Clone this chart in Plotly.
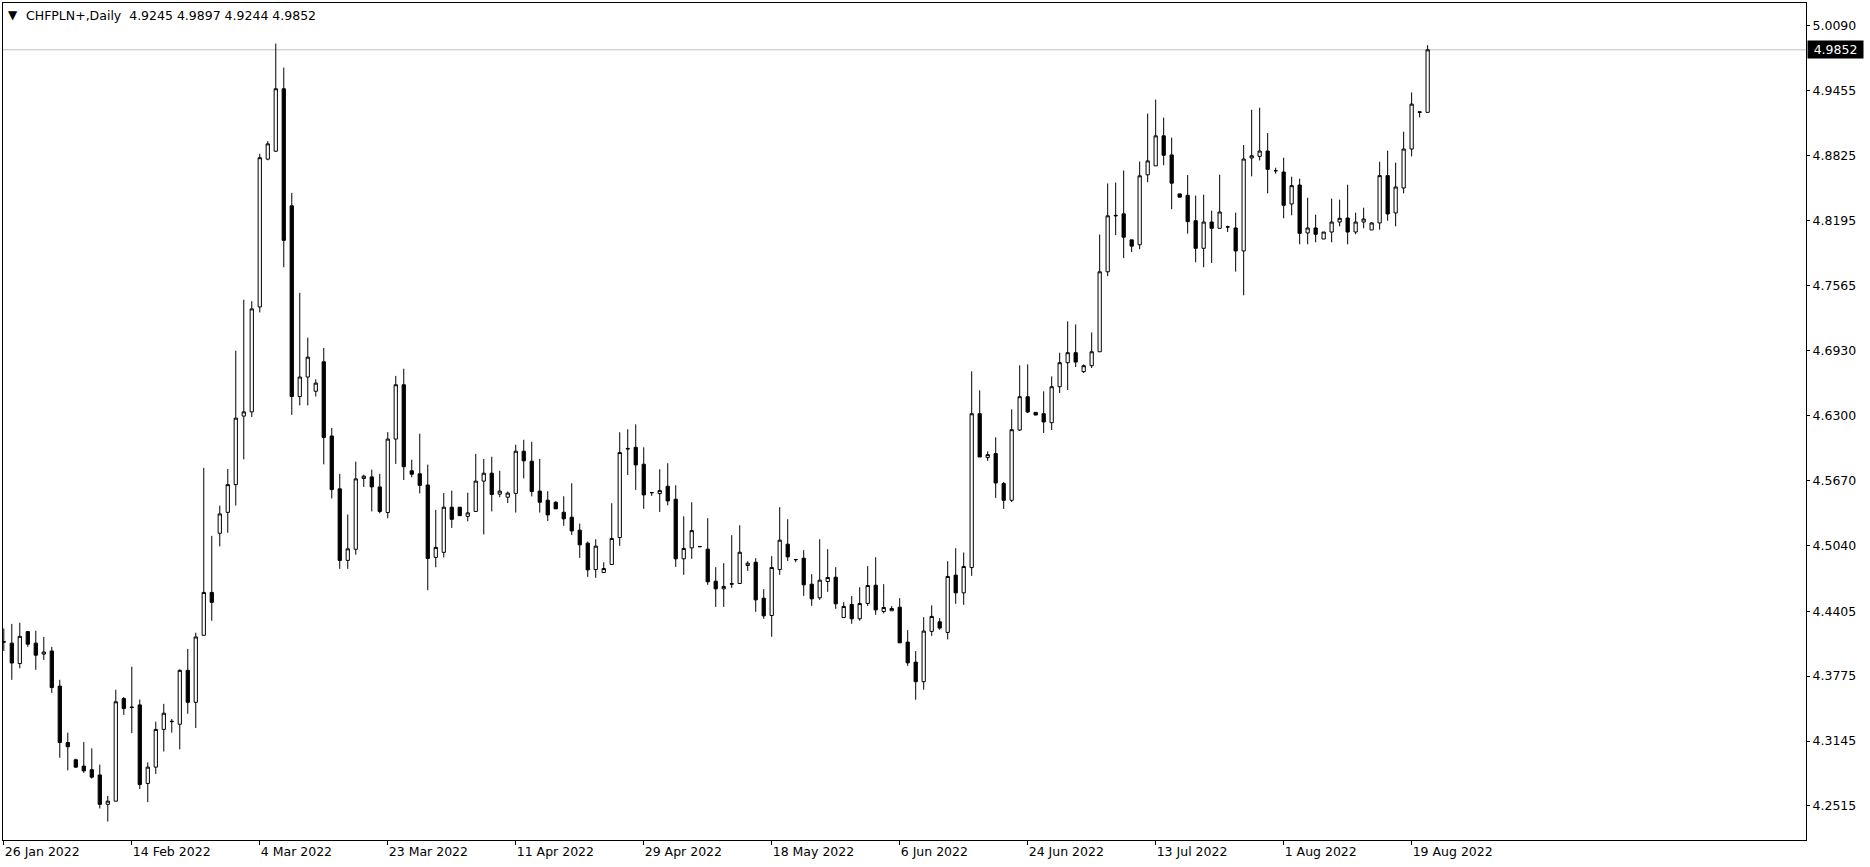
import datetime as dt
import plotly.graph_objects as go

# ---- data (daily CHFPLN bars, Sun-Fri sessions) ----
start_date = dt.date(2022, 1, 26)
n_bars = 179

open_ = [
    4.4110, 4.4095, 4.3897, 4.4207, 4.4095, 4.3989, 4.4019, 4.3678, 4.3131, 4.2963,
    4.2902, 4.2867, 4.2816, 4.2531, 4.2562, 4.3557, 4.3475, 4.3496, 4.2734, 4.2892,
    4.3258, 4.3333, 4.3308, 4.3831, 4.3521, 4.4171, 4.4587, 4.5161, 4.5364, 4.5633,
    4.6298, 4.6339, 4.7357, 4.8791, 4.8868, 4.9474, 4.8338, 4.6488, 4.6677, 4.6539,
    4.6825, 4.6105, 4.5592, 4.4898, 4.5006, 4.5693, 4.5708, 4.5611, 4.5362, 4.6075,
    4.6602, 4.5767, 4.5738, 4.5629, 4.4927, 4.4976, 4.5414, 4.5414, 4.5325, 4.5373,
    4.5667, 4.5744, 4.5541, 4.5511, 4.5548, 4.5957, 4.5860, 4.5570, 4.5482, 4.5462,
    4.5365, 4.5317, 4.5191, 4.5065, 4.4809, 4.4780, 4.4858, 4.5120, 4.5984, 4.5995,
    4.5831, 4.5557, 4.5546, 4.5617, 4.5491, 4.4913, 4.5019, 4.5033, 4.5007, 4.4696,
    4.4622, 4.4672, 4.4674, 4.4848, 4.4880, 4.4531, 4.4363, 4.4809, 4.5055, 4.4907,
    4.4919, 4.4667, 4.4535, 4.4693, 4.4735, 4.4344, 4.4470, 4.4331, 4.4480, 4.4657,
    4.4402, 4.4409, 4.4444, 4.4105, 4.3911, 4.3721, 4.4209, 4.4302, 4.4199, 4.4755,
    4.4583, 4.4828, 4.6321, 4.5895, 4.5934, 4.5643, 4.5481, 4.6163, 4.6486, 4.6334,
    4.6321, 4.6234, 4.6583, 4.6816, 4.6913, 4.6729, 4.6787, 4.6922, 4.7698, 4.8246,
    4.8260, 4.8008, 4.7960, 4.8639, 4.8726, 4.9017, 4.8832, 4.8454, 4.8440, 4.8194,
    4.7926, 4.8181, 4.8120, 4.8132, 4.8123, 4.7900, 4.8802, 4.8818, 4.8870, 4.8680,
    4.8666, 4.8356, 4.8540, 4.8075, 4.8123, 4.8016, 4.8084, 4.8181, 4.8220, 4.8084,
    4.8181, 4.8104, 4.8172, 4.8631, 4.8269, 4.8511, 4.8889, 4.9250, 4.9245,
]
high = [
    4.4237, 4.4282, 4.4293, 4.4212, 4.4216, 4.4155, 4.4059, 4.3739, 4.3227, 4.2974,
    4.3135, 4.3074, 4.2917, 4.2613, 4.3643, 4.3572, 4.3866, 4.3547, 4.2938, 4.3333,
    4.3506, 4.3358, 4.3841, 4.4039, 4.4196, 4.5796, 4.5136, 4.5430, 4.5785, 4.6932,
    4.7427, 4.7413, 4.8843, 4.8965, 4.9912, 4.9679, 4.8464, 4.7494, 4.7060, 4.6655,
    4.6959, 4.6183, 4.5738, 4.5343, 4.5856, 4.5730, 4.5778, 4.5738, 4.6142, 4.6688,
    4.6758, 4.5874, 4.6127, 4.5827, 4.5388, 4.5551, 4.5574, 4.5414, 4.5555, 4.5931,
    4.5882, 4.5904, 4.5767, 4.5566, 4.6020, 4.6068, 4.6049, 4.5882, 4.5569, 4.5472,
    4.5520, 4.5646, 4.5255, 4.5081, 4.5103, 4.4880, 4.5452, 4.6141, 4.6170, 4.6218,
    4.5995, 4.5558, 4.5782, 4.5840, 4.5627, 4.5326, 4.5462, 4.5034, 4.5307, 4.4832,
    4.4871, 4.5142, 4.5239, 4.4890, 4.4919, 4.4619, 4.4939, 4.5414, 4.5297, 4.4908,
    4.4997, 4.4764, 4.5103, 4.5007, 4.4832, 4.4493, 4.4551, 4.4638, 4.4842, 4.4929,
    4.4667, 4.4454, 4.4531, 4.4221, 4.4018, 4.4347, 4.4461, 4.4338, 4.4890, 4.5016,
    4.4974, 4.6732, 4.6548, 4.5956, 4.6092, 4.5659, 4.6363, 4.6790, 4.6800, 4.6334,
    4.6538, 4.6683, 4.6913, 4.7217, 4.7187, 4.6800, 4.7110, 4.8060, 4.8555, 4.8564,
    4.8681, 4.8008, 4.8768, 4.9233, 4.9369, 4.9194, 4.9000, 4.8454, 4.8636, 4.8437,
    4.8446, 4.8291, 4.8640, 4.8146, 4.8272, 4.8928, 4.9270, 4.9290, 4.9044, 4.8708,
    4.8805, 4.8621, 4.8601, 4.8417, 4.8252, 4.8084, 4.8408, 4.8398, 4.8543, 4.8272,
    4.8320, 4.8181, 4.8766, 4.8873, 4.8757, 4.9057, 4.9438, 4.9252, 4.9897,
]
low = [
    4.4019, 4.3739, 4.3851, 4.4059, 4.3836, 4.3932, 4.3612, 4.2983, 4.2861, 4.2887,
    4.2836, 4.2781, 4.2491, 4.2364, 4.2560, 4.3399, 4.3222, 4.2679, 4.2552, 4.2826,
    4.3044, 4.3227, 4.3065, 4.3410, 4.3272, 4.4171, 4.4313, 4.5034, 4.5166, 4.5430,
    4.5878, 4.6290, 4.7304, 4.8780, 4.8861, 4.7743, 4.6310, 4.6402, 4.6402, 4.6488,
    4.5830, 4.5499, 4.4816, 4.4816, 4.4953, 4.5611, 4.5373, 4.5355, 4.5306, 4.5834,
    4.5678, 4.5704, 4.5548, 4.4608, 4.4831, 4.4927, 4.5213, 4.5332, 4.5277, 4.5373,
    4.5150, 4.5373, 4.5511, 4.5455, 4.5362, 4.5693, 4.5519, 4.5362, 4.5281, 4.5398,
    4.5233, 4.5145, 4.4922, 4.4738, 4.4729, 4.4780, 4.4858, 4.5039, 4.5727, 4.5582,
    4.5398, 4.5524, 4.5368, 4.5433, 4.4835, 4.4758, 4.4913, 4.5030, 4.4661, 4.4447,
    4.4447, 4.4632, 4.4674, 4.4796, 4.4399, 4.4331, 4.4157, 4.4758, 4.4893, 4.4880,
    4.4554, 4.4457, 4.4515, 4.4593, 4.4428, 4.4344, 4.4283, 4.4312, 4.4457, 4.4370,
    4.4383, 4.4409, 4.4098, 4.3875, 4.3546, 4.3643, 4.4166, 4.4225, 4.4131, 4.4477,
    4.4467, 4.4748, 4.5901, 4.5863, 4.5504, 4.5397, 4.5465, 4.6153, 4.6328, 4.6308,
    4.6134, 4.6163, 4.6522, 4.6551, 4.6774, 4.6716, 4.6764, 4.6922, 4.7656, 4.8054,
    4.7831, 4.7889, 4.7918, 4.8567, 4.8726, 4.8732, 4.8306, 4.8422, 4.8068, 4.7790,
    4.7742, 4.7784, 4.8120, 4.8084, 4.7700, 4.7470, 4.8624, 4.8779, 4.8459, 4.8650,
    4.8217, 4.8246, 4.7965, 4.7965, 4.7984, 4.8016, 4.7984, 4.8139, 4.7965, 4.8062,
    4.8120, 4.8104, 4.8107, 4.8194, 4.8139, 4.8459, 4.8818, 4.9196, 4.9244,
]
close = [
    4.4105, 4.3902, 4.4161, 4.4085, 4.3978, 4.4009, 4.3664, 4.3131, 4.3090, 4.2892,
    4.2856, 4.2795, 4.2531, 4.2562, 4.3526, 4.3460, 4.3471, 4.2724, 4.2892, 4.3258,
    4.3415, 4.3336, 4.3831, 4.3521, 4.4155, 4.4587, 4.4491, 4.5349, 4.5633, 4.6278,
    4.6339, 4.7338, 4.8805, 4.8939, 4.9474, 4.8003, 4.6488, 4.6677, 4.6870, 4.6618,
    4.6091, 4.5585, 4.4898, 4.5010, 4.5689, 4.5715, 4.5611, 4.5373, 4.6075, 4.6602,
    4.5807, 4.5734, 4.5626, 4.4916, 4.5024, 4.5414, 4.5296, 4.5332, 4.5359, 4.5667,
    4.5744, 4.5537, 4.5570, 4.5551, 4.5957, 4.5864, 4.5566, 4.5462, 4.5339, 4.5398,
    4.5301, 4.5184, 4.5049, 4.4806, 4.5036, 4.4819, 4.5110, 4.5944, 4.5980, 4.5824,
    4.5533, 4.5555, 4.5575, 4.5475, 4.4913, 4.5013, 4.5187, 4.5031, 4.4690, 4.4622,
    4.4645, 4.4668, 4.4977, 4.4871, 4.4515, 4.4360, 4.4829, 4.5094, 4.4932, 4.4905,
    4.4661, 4.4525, 4.4706, 4.4732, 4.4477, 4.4451, 4.4331, 4.4480, 4.4654, 4.4418,
    4.4441, 4.4431, 4.4098, 4.3904, 4.3721, 4.4212, 4.4354, 4.4241, 4.4742, 4.4583,
    4.4839, 4.6321, 4.5901, 4.5924, 4.5649, 4.5481, 4.6166, 4.6486, 4.6338, 4.6308,
    4.6241, 4.6583, 4.6816, 4.6913, 4.6822, 4.6787, 4.6922, 4.7698, 4.8241, 4.8242,
    4.8034, 4.7947, 4.8629, 4.8774, 4.9017, 4.8829, 4.8558, 4.8422, 4.8185, 4.7926,
    4.8181, 4.8120, 4.8278, 4.8134, 4.7900, 4.8792, 4.8824, 4.8870, 4.8692, 4.8678,
    4.8343, 4.8534, 4.8071, 4.8123, 4.8062, 4.8084, 4.8181, 4.8217, 4.8084, 4.8181,
    4.8210, 4.8172, 4.8631, 4.8259, 4.8521, 4.8889, 4.9325, 4.9245, 4.9852,
]

price_ticks = [5.0090, 4.9455, 4.8825, 4.8195, 4.7565, 4.6930, 4.6300,
               4.5670, 4.5040, 4.4405, 4.3775, 4.3145, 4.2515]
symbol_title = "CHFPLN+,Daily"
last_price = 4.9852
label_every = 16

# ---- build session dates (Sunday..Friday sessions) ----
dates = []
d = start_date
while len(dates) < n_bars:
    if d.weekday() != 5:  # skip Saturdays
        dates.append(d)
    d += dt.timedelta(days=1)
x_cat = [dd.isoformat() for dd in dates]
tick_vals = x_cat[::label_every]
tick_text = [f"{dd.day} {dd.strftime('%b')} {dd.year}" for dd in dates[::label_every]]

FONT = "DejaVu Sans"

fig = go.Figure(go.Candlestick(
    x=x_cat, open=open_, high=high, low=low, close=close,
    increasing=dict(line=dict(color="black", width=1), fillcolor="white"),
    decreasing=dict(line=dict(color="black", width=1), fillcolor="black"),
    whiskerwidth=0,
    hoverinfo="skip",
))

fig.add_shape(type="line", xref="paper", yref="y", x0=0, x1=1,
              y0=last_price, y1=last_price,
              line=dict(color="#C0C0C0", width=1), layer="below")

o, h, l, c = open_[-1], high[-1], low[-1], close[-1]
fig.add_annotation(xref="paper", yref="paper", x=0, y=1, xshift=3, yshift=-3,
                   xanchor="left", yanchor="top", showarrow=False,
                   text="\u25BC", font=dict(family=FONT, size=12, color="black"))
fig.add_annotation(xref="paper", yref="paper", x=0, y=1, xshift=21, yshift=-3,
                   xanchor="left", yanchor="top", showarrow=False,
                   text=f"{symbol_title}  {o:.4f} {h:.4f} {l:.4f} {c:.4f}",
                   font=dict(family=FONT, size=12.5, color="black"))
fig.add_annotation(xref="paper", yref="y", x=1, y=last_price, xshift=1,
                   xanchor="left", yanchor="middle", showarrow=False,
                   text=f"{last_price:.4f}", bgcolor="black", borderpad=2,
                   width=51, height=13,
                   font=dict(family=FONT, size=12.5, color="white"))

fig.update_layout(
    width=1870, height=867,
    margin=dict(l=3, r=64, t=3, b=27),
    paper_bgcolor="white", plot_bgcolor="white",
    showlegend=False, boxgap=0.42,
    font=dict(family=FONT, size=12.5, color="black"),
    xaxis=dict(type="category", range=[-0.1, 225.3], rangeslider=dict(visible=False),
               showgrid=False, zeroline=False, showline=True, mirror=True,
               linecolor="black", linewidth=1,
               ticks="outside", ticklen=4, tickcolor="black", tickwidth=1,
               tickmode="array", tickvals=tick_vals, ticktext=tick_text,
               ticklabelposition="outside right",
               tickfont=dict(family=FONT, size=12.5, color="black")),
    yaxis=dict(side="right", range=[4.2185, 5.0306], showgrid=False, zeroline=False,
               showline=True, mirror=True, linecolor="black", linewidth=1,
               ticks="outside", ticklen=3, tickcolor="black", tickwidth=1,
               tickmode="array", tickvals=price_ticks,
               ticktext=[f"{v:.4f}" for v in price_ticks],
               tickfont=dict(family=FONT, size=12.5, color="black")),
)

fig.write_html("out.html", config={"displayModeBar": False},
               post_script="document.body.style.margin='0';document.body.style.overflow='hidden';")
